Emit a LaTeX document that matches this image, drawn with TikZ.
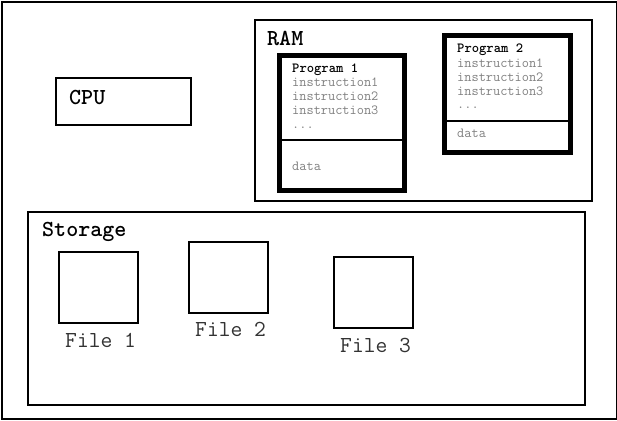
\documentclass[tikz,border=0pt]{standalone}
\usepackage{fontspec}
\usetikzlibrary{positioning}

\begin{document}
\begin{tikzpicture}[x=1bp,y=-1bp,
		box/.style={draw,line width=1.5bp,inner sep=0pt,anchor=north west},
		prog/.style={draw,line width=4.5bp,inner sep=0pt,anchor=north west},
		label/.style={anchor=base west,inner sep=0pt,font=\ttfamily\bfseries\fontsize{23}{23}\selectfont},
		fname/.style={anchor=base west,inner sep=0pt,text=black!80,font=\ttfamily\fontsize{23}{23}\selectfont},
		ptitle/.style={anchor=base west,inner sep=0pt,font=\ttfamily\bfseries\fontsize{14}{14}\selectfont},
		code/.style={anchor=base west,inner sep=0pt,text=black!50,font=\ttfamily\fontsize{14}{14}\selectfont}]
	\useasboundingbox (0,0) rectangle (617,420);
	\node [box,minimum width=615bp,minimum height=417bp] (frame) at (1,1) {};
	% cpu
	\node [box,minimum width=135bp,minimum height=47bp] (cpu) at (55,77) {};
	\node [label] (cpulbl) at (69,104) {CPU};
	% ram with two programs
	\node [box,minimum width=337bp,minimum height=181bp] (ram) at (254,19) {};
	\node [label] (ramlbl) at (267,45) {RAM};
	\node [prog,minimum width=125bp,minimum height=135bp] (prog1) at (277,53) {};
	\draw [line width=1.5bp] (prog1.west |- 0,140) -- (prog1.east |- 0,140);
	\node [ptitle] (p1title) at (292,72) {Program 1};
	\node [code] (p1i1) at (292,86) {instruction1};
	\node [code] (p1i2) at (292,100) {instruction2};
	\node [code] (p1i3) at (292,114) {instruction3};
	\node [code] (p1dots) at (292,128) {...};
	\node [code] (p1data) at (292,170) {data};
	\node [prog,minimum width=126bp,minimum height=117bp] (prog2) at (442,33) {};
	\draw [line width=1.5bp] (prog2.west |- 0,121) -- (prog2.east |- 0,121);
	\node [ptitle] (p2title) at (457,52) {Program 2};
	\node [code] (p2i1) at (457,67) {instruction1};
	\node [code] (p2i2) at (457,81) {instruction2};
	\node [code] (p2i3) at (457,95) {instruction3};
	\node [code] (p2dots) at (457,108) {...};
	\node [code] (p2data) at (457,137) {data};
	% storage with files
	\node [box,minimum width=557bp,minimum height=193bp] (storage) at (27,211) {};
	\node [label] (storelbl) at (42,236) {Storage};
	\node [box,minimum width=79bp,minimum height=71bp] (file1) at (58,251) {};
	\node [fname] (f1lbl) at (65,347) {File 1};
	\node [box,minimum width=79bp,minimum height=71bp] (file2) at (188,241) {};
	\node [fname] (f2lbl) at (195,336) {File 2};
	\node [box,minimum width=79bp,minimum height=71bp] (file3) at (333,256) {};
	\node [fname] (f3lbl) at (340,352) {File 3};
\end{tikzpicture}
\end{document}
